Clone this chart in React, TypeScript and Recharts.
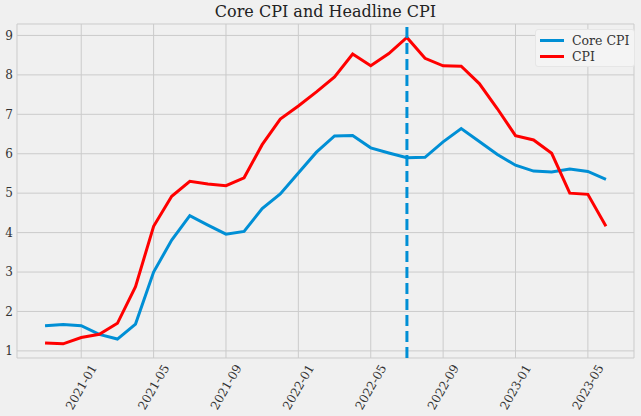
import { CartesianGrid, Line, LineChart, ReferenceLine, XAxis, YAxis } from "recharts";

const months = [
  "2020-11", "2020-12", "2021-01", "2021-02", "2021-03", "2021-04", "2021-05", "2021-06",
  "2021-07", "2021-08", "2021-09", "2021-10", "2021-11", "2021-12", "2022-01", "2022-02",
  "2022-03", "2022-04", "2022-05", "2022-06", "2022-07", "2022-08", "2022-09", "2022-10",
  "2022-11", "2022-12", "2023-01", "2023-02", "2023-03", "2023-04", "2023-05", "2023-06",
];

const coreCpi = [
  1.64, 1.67, 1.64, 1.42, 1.3, 1.68, 3.0, 3.81, 4.43, 4.19, 3.96, 4.03, 4.61, 4.98, 5.51, 6.04,
  6.45, 6.46, 6.15, 6.02, 5.9, 5.91, 6.3, 6.64, 6.31, 5.98, 5.71, 5.56, 5.54, 5.61, 5.55, 5.35,
];

const cpi = [
  1.2, 1.18, 1.34, 1.42, 1.7, 2.63, 4.16, 4.92, 5.3, 5.23, 5.19, 5.39, 6.23, 6.88, 7.21, 7.57,
  7.95, 8.53, 8.23, 8.54, 8.95, 8.42, 8.23, 8.22, 7.78, 7.14, 6.46, 6.35, 6.01, 5.0, 4.97, 4.16,
];

const tickMonths = ["2021-01", "2021-05", "2021-09", "2022-01", "2022-05", "2022-09", "2023-01", "2023-05"];
const yTicks = [1, 2, 3, 4, 5, 6, 7, 8, 9];
const markerMonth = "2022-07";

const data = months.map((m, i) => ({ idx: i, month: m, core: coreCpi[i], cpi: cpi[i] }));
const xTicks = tickMonths.map((m) => months.indexOf(m));

const serif = "'DejaVu Serif', serif";

function XTick({ x, y, payload }: any) {
  return (
    <g transform={`translate(${x},${y + 21})`}>
      <text transform="rotate(-60)" textAnchor="middle" dy="0.35em" fontSize={12} fontFamily={serif} fill="#333">
        {months[payload.value]}
      </text>
    </g>
  );
}

function YTick({ x, y, payload }: any) {
  return (
    <text x={x + 4} y={y} textAnchor="end" dy="0.35em" fontSize={12} fontFamily={serif} fill="#333">
      {payload.value}
    </text>
  );
}

function LegendBox() {
  const items = [
    { label: "Core CPI", color: "#008fd5" },
    { label: "CPI", color: "#ff0000" },
  ];
  return (
    <div
      style={{
        position: "absolute",
        top: 29,
        left: 535,
        background: "#f4f4f4",
        border: "1px solid #e6e6e6",
        borderRadius: 3,
        padding: "2px 5px 2px 4px",
        fontFamily: serif,
        fontSize: 12.5,
        color: "#333",
        whiteSpace: "nowrap",
      }}
    >
      {items.map((it) => (
        <div key={it.label} style={{ display: "flex", alignItems: "center", height: 16 }}>
          <span style={{ display: "inline-block", width: 24, height: 3, background: it.color, marginRight: 8 }} />
          {it.label}
        </div>
      ))}
    </div>
  );
}

export default function App() {
  return (
    <div style={{ width: 641, height: 416, background: "#f0f0f0", position: "relative" }}>
      <style>{"body{margin:0}"}</style>
      <div
        style={{
          position: "absolute",
          top: 2,
          left: 0,
          width: 651,
          textAlign: "center",
          fontFamily: serif,
          fontSize: 16,
          color: "#222",
        }}
      >
        Core CPI and Headline CPI
      </div>
      <LineChart width={641} height={416} data={data} margin={{ top: 24, right: 7, bottom: 0, left: 0 }}>
        <CartesianGrid stroke="#cbcbcb" strokeWidth={1} />
        <XAxis
          dataKey="idx"
          type="number"
          domain={[-1.55, 32.55]}
          ticks={xTicks}
          tick={<XTick />}
          tickLine={false}
          axisLine={false}
          height={58}
          interval={0}
        />
        <YAxis
          type="number"
          domain={[0.82, 9.29]}
          ticks={yTicks}
          tick={<YTick />}
          tickLine={false}
          axisLine={false}
          width={17}
          interval={0}
        />
        <Line dataKey="core" name="Core CPI" stroke="#008fd5" strokeWidth={3} dot={false} isAnimationActive={false} />
        <Line dataKey="cpi" name="CPI" stroke="#ff0000" strokeWidth={3} dot={false} isAnimationActive={false} />
        <ReferenceLine x={months.indexOf(markerMonth)} stroke="#008fd5" strokeWidth={3} strokeDasharray="11 5" />
      </LineChart>
      <LegendBox />
    </div>
  );
}
